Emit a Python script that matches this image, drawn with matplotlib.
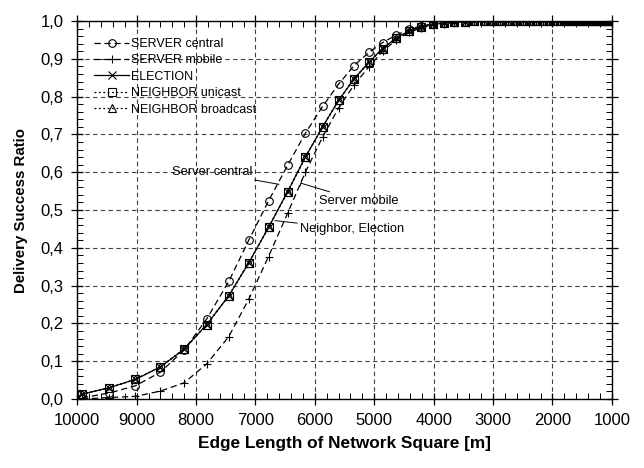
import matplotlib
matplotlib.use("Agg")
import matplotlib.pyplot as plt
from matplotlib.ticker import MultipleLocator, FuncFormatter

plt.rcParams['font.family'] = ['Liberation Sans', 'DejaVu Sans']

# edge length of the network square [m]
edge = [9920, 9460, 9020, 8600, 8200, 7820, 7450, 7110, 6780, 6460,
        6160, 5870, 5600, 5340, 5090, 4860, 4630, 4410, 4210, 4010,
        3830, 3650, 3480, 3320, 3160, 3020, 2880, 2740, 2620, 2490,
        2380, 2270, 2160, 2060, 1970, 1870, 1790, 1700, 1620, 1550,
        1480, 1410, 1340, 1280, 1220, 1160, 1110, 1060, 1010]

# delivery success ratio per protocol
server_central = [0.003, 0.016, 0.035, 0.071, 0.130, 0.212, 0.311, 0.421, 0.524, 0.618,
                  0.703, 0.774, 0.833, 0.882, 0.917, 0.943, 0.963, 0.978, 0.987, 0.992,
                  0.995, 0.997, 0.998, 0.999, 0.999] + [1.0] * 24
server_mobile = [0.000, 0.004, 0.007, 0.021, 0.043, 0.093, 0.165, 0.265, 0.377, 0.491,
                 0.600, 0.693, 0.770, 0.831, 0.879, 0.920, 0.950, 0.970, 0.982, 0.989,
                 0.993, 0.996, 0.998, 0.999, 0.999] + [1.0] * 24
election = [0.013, 0.030, 0.052, 0.085, 0.132, 0.197, 0.273, 0.361, 0.454, 0.548,
            0.640, 0.720, 0.790, 0.847, 0.891, 0.927, 0.955, 0.974, 0.985, 0.991,
            0.995, 0.997, 0.998, 0.999, 0.999] + [1.0] * 24
neighbor_unicast = list(election)
neighbor_broadcast = list(election)

fig = plt.figure(figsize=(6.44, 4.68), dpi=100)
ax = fig.add_axes([0.12, 0.1474, 0.830, 0.8076])

dash = (0, (5, 3))
dot = (0, (1.5, 2))
common = dict(color='black', lw=0.9, markersize=5.5, markerfacecolor='none',
              markeredgecolor='black', markeredgewidth=0.8)

ax.plot(edge, server_central, linestyle=dash, marker='o', label='SERVER central', **common)
ax.plot(edge, server_mobile, linestyle=dash, marker='+', label='SERVER mobile', **common)
ax.plot(edge, election, linestyle='-', marker='x', label='ELECTION', **common)
ax.plot(edge, neighbor_unicast, linestyle=dot, marker='s', label='NEIGHBOR unicast', **common)
ax.plot(edge, neighbor_broadcast, linestyle=dot, marker='^', label='NEIGHBOR broadcast', **common)

ax.set_xlim(10000, 1000)
ax.set_ylim(0, 1)
ax.xaxis.set_major_locator(MultipleLocator(1000))
ax.xaxis.set_minor_locator(MultipleLocator(200))
ax.yaxis.set_major_locator(MultipleLocator(0.1))
ax.yaxis.set_minor_locator(MultipleLocator(0.02))
ax.yaxis.set_major_formatter(FuncFormatter(lambda v, _: f"{v:.1f}".replace('.', ',')))

ax.tick_params(which='major', direction='inout', length=8, width=0.9,
               top=True, right=True, labelsize=12, pad=6)
ax.tick_params(which='minor', direction='in', length=4, width=0.7,
               top=True, right=True)
for s in ax.spines.values():
    s.set_linewidth(1.0)

ax.grid(True, which='major', color='0.25', linestyle=(0, (4, 3)), lw=0.8)

ax.set_xlabel('Edge Length of Network Square [m]', fontsize=12.4, fontweight='bold', labelpad=6)
ax.set_ylabel('Delivery Success Ratio', fontsize=10.8, fontweight='bold', labelpad=9)

leg = ax.legend(loc='upper left', bbox_to_anchor=(0.018, 0.975), frameon=False,
                fontsize=9, handlelength=2.8, handletextpad=0.1,
                labelspacing=0.35, borderaxespad=0.2)

line_kw = dict(arrowstyle='-', color='black', lw=0.7, shrinkA=0, shrinkB=0)
ax.annotate('Server central', xy=(6604, 0.568), xytext=(7060, 0.600),
            ha='right', va='center', fontsize=9.3, arrowprops=line_kw)
ax.annotate('Server mobile', xy=(6234, 0.571), xytext=(5931, 0.525),
            ha='left', va='center', fontsize=9.3,
            arrowprops=dict(line_kw, arrowstyle='-[, widthB=0.25, lengthB=0'))
ax.annotate('Neighbor, Election', xy=(6672, 0.472), xytext=(6251, 0.449),
            ha='left', va='center', fontsize=9.3, arrowprops=line_kw)

fig.savefig('out.png', dpi=100)
